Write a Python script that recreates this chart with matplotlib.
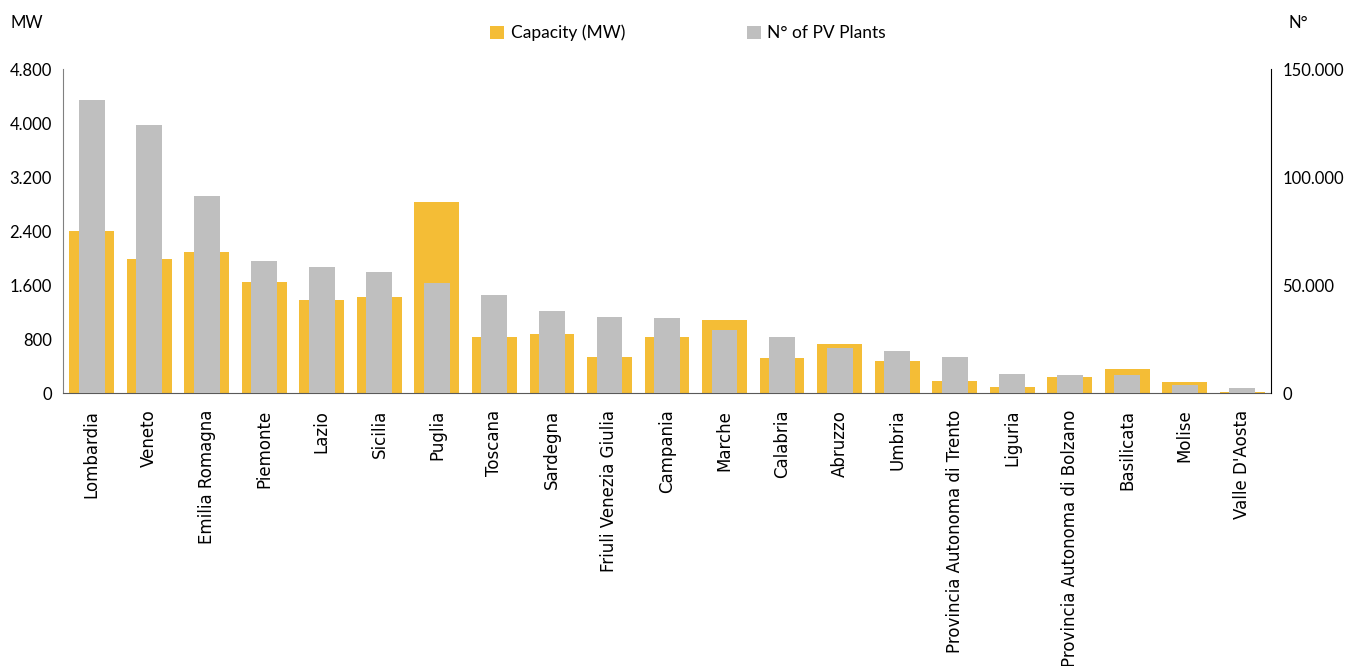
import matplotlib.pyplot as plt
import numpy as np

regions = ["Lombardia", "Veneto", "Emilia Romagna", "Piemonte", "Lazio", "Sicilia",
           "Puglia", "Toscana", "Sardegna", "Friuli Venezia Giulia", "Campania",
           "Marche", "Calabria", "Abruzzo", "Umbria", "Provincia Autonoma di Trento",
           "Liguria", "Provincia Autonoma di Bolzano", "Basilicata", "Molise",
           "Valle D'Aosta"]
capacity_mw = [2400, 1985, 2093, 1639, 1377, 1417, 2829, 824, 869, 533, 824,
               1081, 518, 726, 479, 178, 94, 232, 355, 163, 15]
n_plants = [135800, 124100, 91200, 61100, 58500, 55900, 50800, 45500, 37800,
            35200, 34700, 29200, 25800, 21000, 19400, 16700, 8950, 8200, 8200,
            3700, 2150]

yellow = "#F4BD36"
grey = "#BFBFBF"

fig = plt.figure(figsize=(13.57, 6.66), dpi=100)
ax = fig.add_axes([63/1357, 1-393/666, (1271-63)/1357, (393-69)/666])
ax2 = ax.twinx()

x = np.arange(len(regions))
ax.bar(x, capacity_mw, width=0.78, color=yellow, label="Capacity (MW)", zorder=2)
ax2.bar(x, n_plants, width=0.45, color=grey, label="N° of PV Plants", zorder=3)

ax.set_ylim(0, 4800)
ax.set_yticks(np.arange(0, 4801, 800))
ax.set_yticklabels([f"{v:,}".replace(",", ".") for v in range(0, 4801, 800)],
                   fontfamily="Lato", fontsize=12)
ax2.set_ylim(0, 150000)
ax2.set_yticks([0, 50000, 100000, 150000])
ax2.set_yticklabels(["0", "50.000", "100.000", "150.000"], fontfamily="Lato", fontsize=12)
ax.set_xlim(-0.5, len(regions) - 0.5)
ax.set_xticks(x)
ax.set_xticklabels(regions, rotation=90, fontsize=12, fontfamily="DejaVu Sans")

for a in (ax, ax2):
    a.spines["top"].set_visible(False)
    a.tick_params(length=0, pad=8)
ax.tick_params(axis="x", pad=12)
ax.spines["right"].set_visible(False)
ax.spines["left"].set_color("#808080")
ax.spines["bottom"].set_color("#595959")
ax2.spines["left"].set_visible(False)
ax2.spines["bottom"].set_visible(False)
ax2.spines["right"].set_color("black")

fig.text(10/1357, 1-23/666, "MW", fontfamily="Lato", fontsize=12, va="center")
fig.text(1289/1357, 1-23/666, "N°", fontfamily="Lato", fontsize=12, va="center")

h1, l1 = ax.get_legend_handles_labels()
h2, l2 = ax2.get_legend_handles_labels()
fig.legend(h1 + h2, l1 + l2, loc="center", bbox_to_anchor=(688/1357, 1-33/666),
           ncol=2, frameon=False, columnspacing=7.0, handlelength=0.8, handleheight=0.8,
           handletextpad=0.4, prop={"family": "Lato", "size": 12.5})

fig.savefig("out.png", dpi=100)
